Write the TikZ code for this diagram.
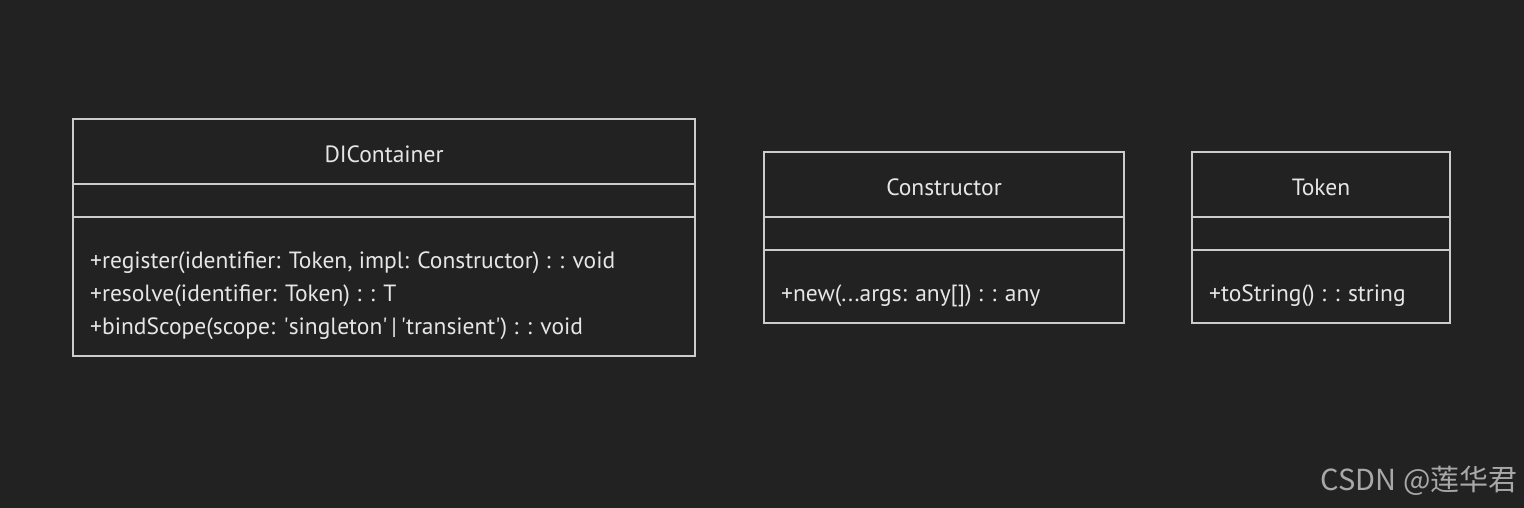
\documentclass[tikz,border=0pt]{standalone}
\usepackage{fontspec}
\setmainfont{PT Sans}
\newfontfamily\cjk{Noto Sans CJK SC}
\usepackage{tikz}

\definecolor{bgdark}{HTML}{222222}
\definecolor{linegray}{HTML}{CCCCCC}
\definecolor{textlight}{HTML}{E6E6E6}
\definecolor{markgray}{HTML}{A8A8A8}

\begin{document}
\begin{tikzpicture}[x=1pt,y=-1pt]
                \tikzstyle{part}=[draw=linegray,line width=1.3pt,inner sep=0pt,outer sep=0pt,anchor=north west]
                \tikzstyle{title}=[text=textlight,font=\fontsize{23.5}{28}\selectfont,anchor=base,inner sep=0pt]
                \tikzstyle{member}=[text=textlight,font=\fontsize{23.5}{28}\selectfont,anchor=base west,inner sep=0pt]
                \fill[bgdark] (0,0) rectangle (1524,508);
                \useasboundingbox (0,0) rectangle (1524,508);

                % class boxes: name / x / y / width / height of the method part
                \foreach \name/\x/\y/\w/\h in {dic/73/119/622/139, ctor/764/152/360/73, tok/1192/152/258/73} {
                    \node[part,minimum width=\w,minimum height=65] (\name-head) at (\x,\y) {};
                    \node[part,minimum width=\w,minimum height=33] (\name-attr) at (\name-head.south west) {};
                    \node[part,minimum width=\w,minimum height=\h] (\name-ops) at (\name-attr.south west) {};
                }

                \node[title] (dic-name) at ([yshift=-11]dic-head.center) {DIContainer};
                \node[title] (ctor-name) at ([yshift=-11]ctor-head.center) {Constructor};
                \node[title] (tok-name) at ([yshift=-11]tok-head.center) {Token};

                \node[member] (dic-op1) at ([xshift=17,yshift=-51]dic-ops.north west) {+register(identifier: Token, impl: Constructor) : : void};
                \node[member] (dic-op2) at ([yshift=-33]dic-op1.base west) {+resolve(identifier: Token) : : T};
                \node[member] (dic-op3) at ([yshift=-33]dic-op2.base west) {+bindScope(scope: \textquotesingle singleton\textquotesingle\,|\,\textquotesingle transient\textquotesingle) : : void};

                \node[member] (ctor-op1) at ([xshift=17,yshift=-51]ctor-ops.north west) {+new(...args: any[]) : : any};
                \node[member] (tok-op1) at ([xshift=17,yshift=-51]tok-ops.north west) {+toString() : : string};

                \node[text=markgray,font=\cjk\fontsize{29}{33}\selectfont,anchor=base east,inner sep=0pt] (mark) at (1518,490) {CSDN @莲华君};
\end{tikzpicture}
\end{document}
